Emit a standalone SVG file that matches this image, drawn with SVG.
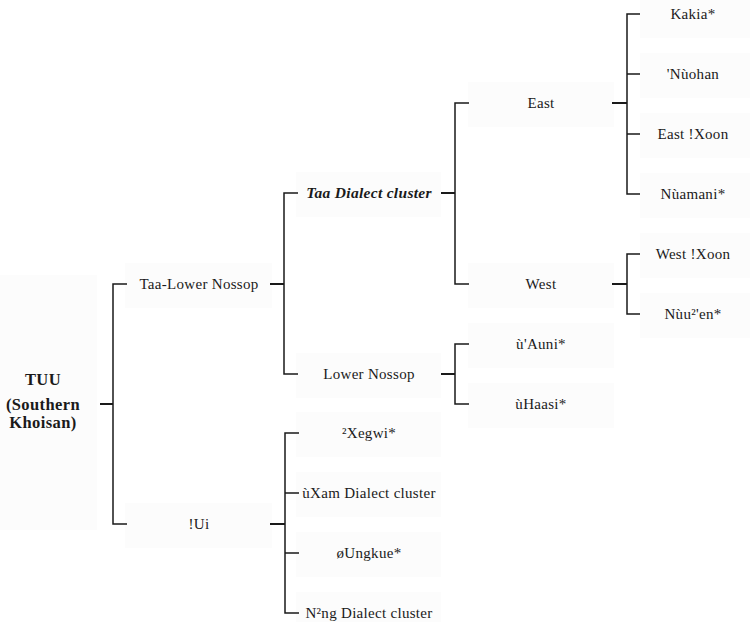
<svg xmlns="http://www.w3.org/2000/svg" width="750" height="622" viewBox="0 0 750 622">
<style>
.bx{fill:#fcfcfc;stroke:none}
.t{font-family:"Liberation Serif","DejaVu Serif",serif;font-size:15px;letter-spacing:0.3px;fill:#1a1a1a;text-anchor:middle}
.b{font-weight:bold;font-size:16.5px;letter-spacing:0.4px}
.i{font-weight:bold;font-style:italic;font-size:15.5px}
.c path{fill:none;stroke:#1a1a1a;stroke-width:1.5}
.c .s{stroke-width:2}
</style>
<rect width="750" height="622" fill="#ffffff"/>
<g id="root"><rect class="bx" x="0" y="275" width="97" height="255"/>
<text class="t b" x="43" y="385">TUU</text><text class="t b" x="43" y="410">(Southern</text><text class="t b" x="43" y="428">Khoisan)</text></g>
<g id="taa-lower-nossop"><rect class="bx" x="125" y="263" width="147" height="45"/><text class="t" x="199" y="289">Taa-Lower Nossop</text></g>
<g id="ui"><rect class="bx" x="125" y="503" width="147" height="45"/><text class="t" x="199" y="529">!Ui</text></g>
<g id="taa-dialect"><rect class="bx" x="296" y="172" width="145" height="45"/><text class="t i" x="369" y="198">Taa Dialect cluster</text></g>
<g id="lower-nossop"><rect class="bx" x="296" y="353" width="145" height="45"/><text class="t" x="369" y="379">Lower Nossop</text></g>
<g id="xegwi"><rect class="bx" x="296" y="412" width="145" height="45"/><text class="t" x="369" y="438">²Xegwi*</text></g>
<g id="xam"><rect class="bx" x="296" y="472" width="145" height="45"/><text class="t" x="369" y="498">ùXam Dialect cluster</text></g>
<g id="ungkue"><rect class="bx" x="296" y="532" width="145" height="45"/><text class="t" x="369" y="558">øUngkue*</text></g>
<g id="nng"><rect class="bx" x="296" y="592" width="145" height="30"/><text class="t" x="369" y="618">N²ng Dialect cluster</text></g>
<g id="east"><rect class="bx" x="468" y="82" width="146" height="45"/><text class="t" x="541" y="108">East</text></g>
<g id="west"><rect class="bx" x="468" y="263" width="146" height="45"/><text class="t" x="541" y="289">West</text></g>
<g id="auni"><rect class="bx" x="468" y="323" width="146" height="45"/><text class="t" x="541" y="349">ù'Auni*</text></g>
<g id="haasi"><rect class="bx" x="468" y="383" width="146" height="45"/><text class="t" x="541" y="409">ùHaasi*</text></g>
<g id="kakia"><rect class="bx" x="640" y="0" width="110" height="38"/><text class="t" x="693" y="19">Kakia*</text></g>
<g id="nuohan"><rect class="bx" x="640" y="53" width="110" height="45"/><text class="t" x="693" y="79">'Nùohan</text></g>
<g id="east-xoon"><rect class="bx" x="640" y="113" width="110" height="45"/><text class="t" x="693" y="139">East !Xoon</text></g>
<g id="nuamani"><rect class="bx" x="640" y="173" width="110" height="45"/><text class="t" x="693" y="199">Nùamani*</text></g>
<g id="west-xoon"><rect class="bx" x="640" y="233" width="110" height="45"/><text class="t" x="693" y="259">West !Xoon</text></g>
<g id="nuuen"><rect class="bx" x="640" y="293" width="110" height="45"/><text class="t" x="693" y="319">Nùu²'en*</text></g>
<g id="connectors" class="c">
<path class="s" d="M100,404H113"/><path d="M127,284H113V524H127"/>
<path class="s" d="M270,284H284"/><path d="M298,193H284V374H298"/>
<path class="s" d="M270,524H285"/><path d="M299,433H285V613H299M285,493H299M285,553H299"/>
<path class="s" d="M441,193H455"/><path d="M469,103H455V284H469"/>
<path class="s" d="M441,374H455"/><path d="M469,344H455V404H469"/>
<path class="s" d="M612,103H627"/><path d="M640,14H627V194H640M627,74H640M627,134H640"/>
<path class="s" d="M612,284H627"/><path d="M640,254H627V314H640"/>
</g>
</svg>
